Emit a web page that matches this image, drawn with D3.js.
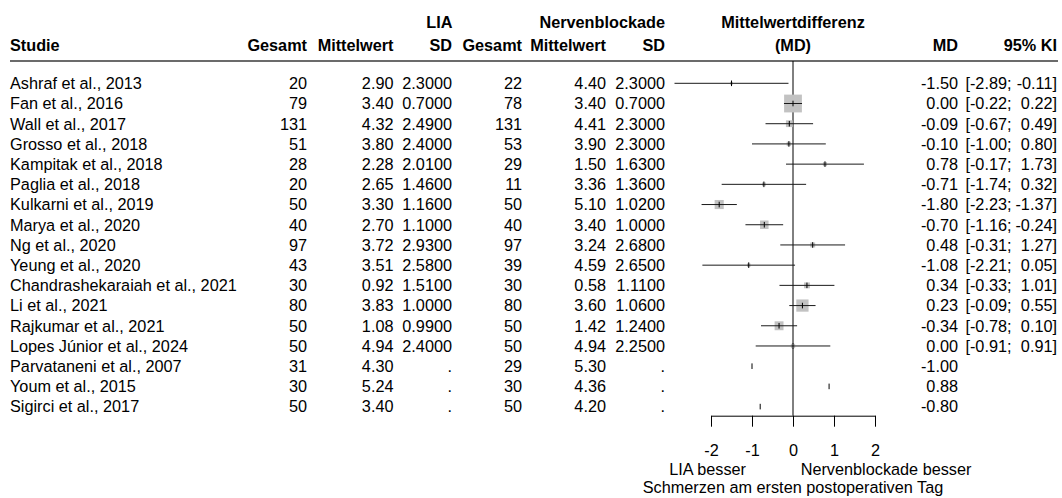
<!DOCTYPE html>
<html>
<head>
<meta charset="utf-8">
<script src="https://cdn.jsdelivr.net/npm/d3@7"></script>
<style>
  html, body { margin: 0; padding: 0; background: #fff; }
  svg { display: block; }
  text { font-family: "Liberation Sans", Arial, sans-serif; font-size: 16.25px; fill: #000; }
  .hdr { font-weight: bold; }
</style>
</head>
<body>
<svg id="chart" width="1062" height="498"></svg>
<script>
const studies = ["Ashraf et al., 2013","Fan et al., 2016","Wall et al., 2017","Grosso et al., 2018","Kampitak et al., 2018","Paglia et al., 2018","Kulkarni et al., 2019","Marya et al., 2020","Ng et al., 2020","Yeung et al., 2020","Chandrashekaraiah et al., 2021","Li et al., 2021","Rajkumar et al., 2021","Lopes Júnior et al., 2024","Parvataneni et al., 2007","Youm et al., 2015","Sigirci et al., 2017"];
const liaN    = [20,79,131,51,28,20,50,40,97,43,30,80,50,50,31,30,50];
const liaMean = [2.90,3.40,4.32,3.80,2.28,2.65,3.30,2.70,3.72,3.51,0.92,3.83,1.08,4.94,4.30,5.24,3.40];
const liaSD   = [2.3,0.7,2.49,2.4,2.01,1.46,1.16,1.1,2.93,2.58,1.51,1.0,0.99,2.4,null,null,null];
const nbN     = [22,78,131,53,29,11,50,40,97,39,30,80,50,50,29,30,50];
const nbMean  = [4.40,3.40,4.41,3.90,1.50,3.36,5.10,3.40,3.24,4.59,0.58,3.60,1.42,4.94,5.30,4.36,4.20];
const nbSD    = [2.3,0.7,2.3,2.3,1.63,1.36,1.02,1.0,2.68,2.65,1.11,1.06,1.24,2.25,null,null,null];
const md      = [-1.50,0.00,-0.09,-0.10,0.78,-0.71,-1.80,-0.70,0.48,-1.08,0.34,0.23,-0.34,0.00,-1.00,0.88,-0.80];
const ciLow   = [-2.89,-0.22,-0.67,-1.00,-0.17,-1.74,-2.23,-1.16,-0.31,-2.21,-0.33,-0.09,-0.78,-0.91,null,null,null];
const ciHigh  = [-0.11,0.22,0.49,0.80,1.73,0.32,-1.37,-0.24,1.27,0.05,1.01,0.55,0.10,0.91,null,null,null];
const axisTicks = [-2,-1,0,1,2];
const labelLeft = "LIA besser";
const labelRight = "Nervenblockade besser";
const axisTitle = "Schmerzen am ersten postoperativen Tag";

const rows = studies.map((s,i)=>({s, i, liaN:liaN[i], liaMean:liaMean[i], liaSD:liaSD[i],
  nbN:nbN[i], nbMean:nbMean[i], nbSD:nbSD[i], md:md[i], lo:ciLow[i], hi:ciHigh[i]}));

const svg = d3.select("#chart");
const x = d3.scaleLinear().domain([-2,2]).range([711,875]);
const y = d3.scalePoint().domain(d3.range(studies.length)).range([83.3,406.6]);
const axisY = 415.7;
const ruleY = 61;
const f2 = v => v.toFixed(2);
const f4 = v => v == null ? "." : v.toFixed(4);

// weights (inverse variance from CI) -> box size
rows.forEach(r => { r.w = r.lo == null ? null : 1/Math.pow((r.hi - r.lo)/3.92, 2); });
const boxScale = d3.scaleSqrt().domain([0, d3.max(rows, r=>r.w)]).range([0, 17.8]);

// header
const h1 = 28.3, h2 = 50.6;
const hdr = [
  {t:"LIA", x:452.5, y:h1, a:"end"},
  {t:"Nervenblockade", x:665, y:h1, a:"end"},
  {t:"Mittelwertdifferenz", x:x(0), y:h1, a:"middle"},
  {t:"Studie", x:10, y:h2, a:"start"},
  {t:"Gesamt", x:307, y:h2, a:"end"},
  {t:"Mittelwert", x:393.5, y:h2, a:"end"},
  {t:"SD", x:452, y:h2, a:"end"},
  {t:"Gesamt", x:522, y:h2, a:"end"},
  {t:"Mittelwert", x:606, y:h2, a:"end"},
  {t:"SD", x:665, y:h2, a:"end"},
  {t:"(MD)", x:x(0), y:h2, a:"middle"},
  {t:"MD", x:958, y:h2, a:"end"},
  {t:"95% KI", x:1057, y:h2, a:"end"}
];
svg.append("g").selectAll("text").data(hdr).join("text")
  .attr("class","hdr").attr("x",d=>d.x).attr("y",d=>d.y).attr("text-anchor",d=>d.a).text(d=>d.t);

svg.append("line").attr("x1",10).attr("x2",1058).attr("y1",ruleY).attr("y2",ruleY)
  .attr("stroke","#3a3a3a").attr("stroke-width",1.5);

// table columns
const cols = [
  {x:10, a:"start", v:r=>r.s},
  {x:307, a:"end", v:r=>String(r.liaN)},
  {x:393.5, a:"end", v:r=>f2(r.liaMean)},
  {x:452, a:"end", v:r=>f4(r.liaSD)},
  {x:522, a:"end", v:r=>String(r.nbN)},
  {x:606, a:"end", v:r=>f2(r.nbMean)},
  {x:665, a:"end", v:r=>f4(r.nbSD)},
  {x:958, a:"end", v:r=>f2(r.md)},
  {x:1011.5, a:"end", v:r=>r.lo==null ? "" : "[" + f2(r.lo) + ";"},
  {x:1057, a:"end", v:r=>r.hi==null ? "" : f2(r.hi) + "]"}
];
const tg = svg.append("g");
cols.forEach(c => {
  tg.append("g").selectAll("text").data(rows).join("text")
    .attr("x", c.x).attr("y", r => y(r.i) + 5.8).attr("text-anchor", c.a).text(c.v);
});

// zero line
svg.append("line").attr("x1",x(0)).attr("x2",x(0)).attr("y1",ruleY).attr("y2",axisY)
  .attr("stroke","#000").attr("stroke-width",1);

// boxes
const pg = svg.append("g");
const ci = rows.filter(r => r.lo != null);
pg.selectAll("rect").data(ci).join("rect")
  .attr("x", r => x(r.md) - boxScale(r.w)/2)
  .attr("y", r => y(r.i) - boxScale(r.w)/2)
  .attr("width", r => boxScale(r.w)).attr("height", r => boxScale(r.w))
  .attr("fill","#c2c2c2");
pg.selectAll("line.ci").data(ci).join("line").attr("class","ci")
  .attr("x1", r => x(r.lo)).attr("x2", r => x(r.hi))
  .attr("y1", r => y(r.i)).attr("y2", r => y(r.i))
  .attr("stroke","#1a1a1a").attr("stroke-width",1);
pg.selectAll("line.pt").data(rows).join("line").attr("class","pt")
  .attr("x1", r => x(r.md)).attr("x2", r => x(r.md))
  .attr("y1", r => y(r.i) - 2.8).attr("y2", r => y(r.i) + 2.8)
  .attr("stroke","#000").attr("stroke-width",1);

// axis
const ax = svg.append("g").attr("transform",`translate(0,${axisY})`)
  .call(d3.axisBottom(x).tickValues(axisTicks).tickSize(11).tickSizeOuter(0).tickPadding(17.5).tickFormat(d=>String(d)));
ax.select(".domain").attr("stroke","#000");
ax.selectAll(".tick line").attr("stroke","#000");
ax.selectAll(".tick text").attr("font-size","16.25px").attr("font-family",'"Liberation Sans", Arial, sans-serif').attr("fill","#000");

svg.append("text").attr("x",746).attr("y",474.8).attr("text-anchor","end").text(labelLeft);
svg.append("text").attr("x",800.7).attr("y",474.8).attr("text-anchor","start").text(labelRight);
svg.append("text").attr("x",x(0)).attr("y",493.2).attr("text-anchor","middle").text(axisTitle);
</script>
</body>
</html>
